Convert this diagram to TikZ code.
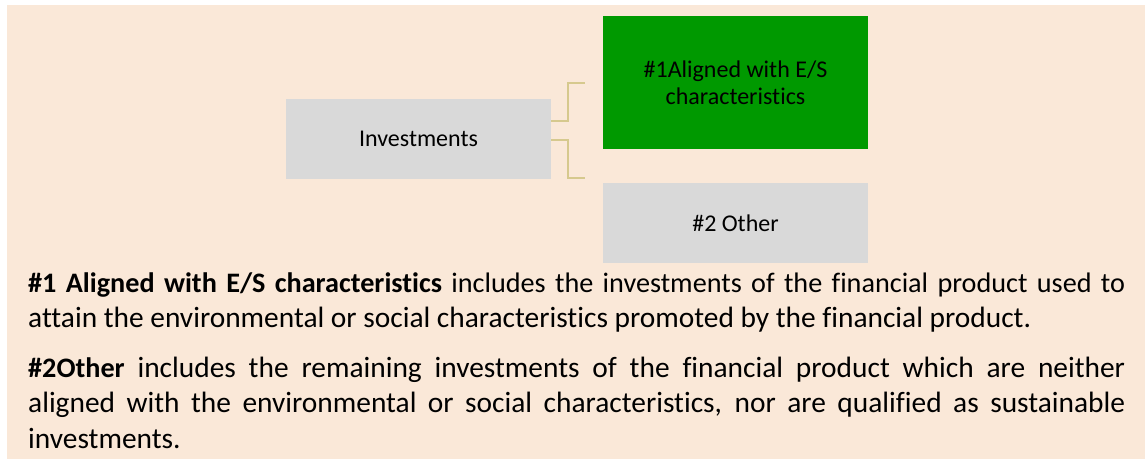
\documentclass[tikz,border=0pt]{standalone}
\usepackage{fontspec}
\setmainfont{Carlito}[Ligatures={NoCommon}]
\definecolor{bg}{RGB}{250,232,216}
\definecolor{boxgrey}{RGB}{217,217,217}
\definecolor{boxgreen}{RGB}{0,153,0}
\definecolor{conncol}{RGB}{214,201,142}
\newcommand{\narrowtxt}[1]{{\fontsize{28.2}{35.5}\selectfont #1}}
\tikzset{
  box/.style={draw=none, inner sep=0pt, minimum width=265pt, align=center, text=black,
    font=\fontsize{24}{27.5}\selectfont},
  para/.style={inner sep=0pt, text width=1097pt, align=justify, text=black,
    font=\fontsize{29.4}{35.5}\selectfont,
    execute at begin node={\hyphenpenalty=10000 \tolerance=10000 \emergencystretch=20pt }},
  conn/.style={draw=conncol, line width=2.2pt}
}
\begin{document}
\begin{tikzpicture}[x=1pt,y=-1pt]
\useasboundingbox (0,0) rectangle (1145,459);
\fill[bg] (7,5) rectangle (1145,459);
\node[box, fill=boxgrey, minimum height=80pt] (inv) at (418.5,139) {Investments};
\node[box, fill=boxgreen, minimum height=133pt] (al) at (735.5,82.5) {\#1Aligned with E/S\\characteristics};
\node[box, fill=boxgrey, minimum height=80pt] (oth) at (735.5,223) {\#2 Other};
\coordinate (u0) at (551,121);
\coordinate (u1) at (585,83);
\coordinate (l0) at (551,140);
\coordinate (l1) at (585,178);
\draw[conn] (inv.east |- u0) -- (568,121) |- (u1);
\draw[conn] (inv.east |- l0) -- (568,140) |- (l1);
\node[para, anchor=base west] (p1) at (28,292) {\narrowtxt{\textbf{\#1 Aligned with E/S characteristics} includes the investments of the financial product used to}\linebreak attain the environmental or social characteristics promoted by the financial product.};
\node[para, anchor=base west] (p2) at (28,377) {\narrowtxt{\textbf{\#2Other}} includes the remaining investments of the financial product which are neither\linebreak aligned with the environmental or social characteristics, nor are qualified as sustainable\linebreak investments.};
\end{tikzpicture}
\end{document}
